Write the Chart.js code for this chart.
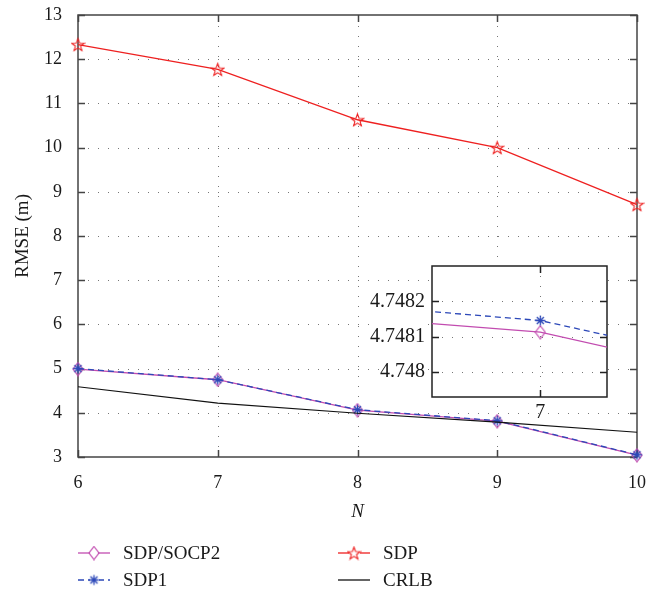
<!DOCTYPE html>
<html lang="en">
<head>
  <meta charset="UTF-8">
  <title>RMSE vs N</title>
  <script src="https://cdn.jsdelivr.net/npm/chart.js"></script>
  <style>
    body {
      margin: 0;
      background: #fff;
    }
    #wrap {
      position: relative;
      width: 648px;
      height: 590px;
      font-family: "Liberation Serif", "Times New Roman", serif;
    }
    #mainChart { position: absolute; left: 0; top: 0; }
    #insetChart { position: absolute; left: 350px; top: 256px; }
    .key {
      position: absolute;
      display: flex;
      align-items: center;
      height: 20px;
      font-size: 19px;
      color: #1a1a1a;
      white-space: nowrap;
    }
    .key canvas { margin-right: 12px; }
  </style>
</head>
<body>
  <div id="wrap">
    <canvas id="mainChart" width="648" height="590"></canvas>
    <canvas id="insetChart" width="265" height="170"></canvas>
    <div class="key" id="key0" style="left:77px; top:543px"></div>
    <div class="key" id="key1" style="left:337px; top:543px"></div>
    <div class="key" id="key2" style="left:77px; top:570px"></div>
    <div class="key" id="key3" style="left:337px; top:570px"></div>
  </div>

  <script>
    // number of anchors N
    const nValues = [6, 7, 8, 9, 10];
    const xTicks = [6, 7, 8, 9, 10];
    const yTicks = [3, 4, 5, 6, 7, 8, 9, 10, 11, 12, 13];

    // RMSE (m) per method
    const sdpSocp2 = [4.99, 4.748113, 4.06, 3.81, 3.04];
    const sdp1 = [5.00, 4.748146, 4.07, 3.82, 3.05];
    const sdp = [12.33, 11.77, 10.63, 10.00, 8.71];
    const crlb = [4.59, 4.22, 3.99, 3.79, 3.56];

    // zoomed view around N = 7
    const insetXTicks = [7];
    const insetYTicks = [4.748, 4.7481, 4.7482];

    const colors = {
      socp2: '#c24cb0',
      sdp1: '#2c48b8',
      sdp: '#ee2020',
      crlb: '#111111'
    };

    function markerCanvas(w, h, draw) {
      const c = document.createElement('canvas');
      c.width = w;
      c.height = h;
      draw(c.getContext('2d'), w, h);
      return c;
    }

    const diamond = markerCanvas(12, 15, (g, w, h) => {
      g.strokeStyle = colors.socp2;
      g.lineWidth = 1.2;
      g.beginPath();
      g.moveTo(w / 2, 1);
      g.lineTo(w - 1, h / 2);
      g.lineTo(w / 2, h - 1);
      g.lineTo(1, h / 2);
      g.closePath();
      g.stroke();
    });

    const asterisk = markerCanvas(13, 13, (g, w, h) => {
      g.strokeStyle = colors.sdp1;
      g.lineWidth = 1.3;
      g.beginPath();
      for (let k = 0; k < 4; k++) {
        const a = k * Math.PI / 4;
        g.moveTo(w / 2 - 5 * Math.cos(a), h / 2 - 5 * Math.sin(a));
        g.lineTo(w / 2 + 5 * Math.cos(a), h / 2 + 5 * Math.sin(a));
      }
      g.stroke();
    });

    const star5 = markerCanvas(15, 15, (g, w, h) => {
      g.strokeStyle = colors.sdp;
      g.lineWidth = 1.1;
      g.beginPath();
      for (let k = 0; k < 10; k++) {
        const r = k % 2 === 0 ? 6.6 : 2.7;
        const a = -Math.PI / 2 + k * Math.PI / 5;
        const px = w / 2 + r * Math.cos(a);
        const py = h / 2 + 0.7 + r * Math.sin(a);
        if (k === 0) g.moveTo(px, py); else g.lineTo(px, py);
      }
      g.closePath();
      g.stroke();
    });

    const pts = ys => nValues.map((n, i) => ({ x: n, y: ys[i] }));

    // dotted grid, box and inward tick marks
    const framePlugin = {
      id: 'frame',
      beforeDatasetsDraw(chart, args, opts) {
        const { ctx, chartArea: a, scales: { x, y } } = chart;
        ctx.save();
        if (opts.fill) {
          ctx.fillStyle = opts.fill;
          ctx.fillRect(a.left, a.top, a.width, a.height);
        }
        ctx.strokeStyle = opts.gridColor;
        ctx.lineWidth = 1;
        ctx.setLineDash(opts.dash);
        x.ticks.forEach(t => {
          const px = Math.round(x.getPixelForValue(t.value)) + 0.5;
          if (px <= a.left + 2 || px >= a.right - 2) return;
          ctx.beginPath();
          ctx.moveTo(px, a.bottom);
          ctx.lineTo(px, a.top);
          ctx.stroke();
        });
        y.ticks.forEach(t => {
          const py = Math.round(y.getPixelForValue(t.value)) + 0.5;
          if (py <= a.top + 2 || py >= a.bottom - 2) return;
          ctx.beginPath();
          ctx.moveTo(a.left, py);
          ctx.lineTo(a.right, py);
          ctx.stroke();
        });
        ctx.setLineDash([]);
        ctx.strokeStyle = opts.boxColor;
        ctx.lineWidth = opts.boxWidth;
        ctx.beginPath();
        x.ticks.forEach(t => {
          const px = Math.round(x.getPixelForValue(t.value)) + 0.5;
          ctx.moveTo(px, a.bottom);
          ctx.lineTo(px, a.bottom - opts.tickLen);
          ctx.moveTo(px, a.top);
          ctx.lineTo(px, a.top + opts.tickLen);
        });
        y.ticks.forEach(t => {
          const py = Math.round(y.getPixelForValue(t.value)) + 0.5;
          ctx.moveTo(a.left, py);
          ctx.lineTo(a.left + opts.tickLen, py);
          ctx.moveTo(a.right, py);
          ctx.lineTo(a.right - opts.tickLen, py);
        });
        ctx.stroke();
        ctx.strokeRect(a.left, a.top, a.width, a.height);
        ctx.restore();
      }
    };

    const serif = '"Liberation Serif", "Times New Roman", serif';

    function fixedTicks(values) {
      return scale => { scale.ticks = values.map(v => ({ value: v })); };
    }

    // the zoomed axes reach far past the int16 pixel clamp, so map without it
    function fixedTicksUnclamped(values) {
      return scale => {
        scale.ticks = values.map(v => ({ value: v }));
        scale.getPixelForDecimal = function (d) {
          if (this._reversePixels) d = 1 - d;
          return this._startPixel + d * this._length;
        };
      };
    }

    new Chart(document.getElementById('mainChart'), {
      type: 'line',
      data: {
        datasets: [
          { label: 'SDP1', data: pts(sdp1), borderColor: colors.sdp1, borderWidth: 1.3,
            borderDash: [6, 4], pointStyle: asterisk, pointRadius: 5, order: 1 },
          { label: 'SDP/SOCP2', data: pts(sdpSocp2), borderColor: colors.socp2, borderWidth: 1.3,
            pointStyle: diamond, pointRadius: 5, order: 2 },
          { label: 'SDP', data: pts(sdp), borderColor: colors.sdp, borderWidth: 1.3,
            pointStyle: star5, pointRadius: 5, order: 3 },
          { label: 'CRLB', data: pts(crlb), borderColor: colors.crlb, borderWidth: 1.2,
            pointRadius: 0, order: 0 }
        ]
      },
      options: {
        responsive: false,
        animation: false,
        devicePixelRatio: 1,
        events: [],
        clip: false,
        layout: { padding: { top: 15, right: 11, bottom: 0, left: 0 } },
        scales: {
          x: {
            type: 'linear',
            min: 6,
            max: 10,
            afterBuildTicks: fixedTicks(xTicks),
            afterFit: s => { s.height = 133; s.paddingLeft = 0; s.paddingRight = 0; },
            grid: { display: false, drawTicks: false },
            border: { display: false },
            ticks: { padding: 15, color: '#1a1a1a', font: { family: serif, size: 18 } },
            title: {
              display: true,
              text: 'N',
              color: '#1a1a1a',
              padding: { top: 0, bottom: 67 },
              font: { family: serif, size: 19, style: 'italic' }
            }
          },
          y: {
            min: 3,
            max: 13,
            afterBuildTicks: fixedTicks(yTicks),
            afterFit: s => { s.width = 78; s.paddingTop = 0; s.paddingBottom = 0; },
            grid: { display: false, drawTicks: false },
            border: { display: false },
            ticks: { padding: 16, color: '#1a1a1a', font: { family: serif, size: 18 } },
            title: {
              display: true,
              text: 'RMSE (m)',
              color: '#1a1a1a',
              padding: { top: 12, bottom: 0 },
              font: { family: serif, size: 19 }
            }
          }
        },
        plugins: {
          legend: { display: false },
          tooltip: { enabled: false },
          frame: { gridColor: '#777', dash: [1, 9], boxColor: '#444', boxWidth: 1.5, tickLen: 7 }
        }
      },
      plugins: [framePlugin]
    });

    new Chart(document.getElementById('insetChart'), {
      type: 'line',
      data: {
        datasets: [
          { label: 'SDP1', data: pts(sdp1), borderColor: colors.sdp1, borderWidth: 1.3,
            borderDash: [6, 4], pointStyle: asterisk, pointRadius: 5, order: 0, clip: 0 },
          { label: 'SDP/SOCP2', data: pts(sdpSocp2), borderColor: colors.socp2, borderWidth: 1.3,
            pointStyle: diamond, pointRadius: 5, order: 1, clip: 0 }
        ]
      },
      options: {
        responsive: false,
        animation: false,
        devicePixelRatio: 1,
        events: [],
        layout: { padding: { top: 10, right: 8, bottom: 0, left: 0 } },
        scales: {
          x: {
            type: 'linear',
            min: 6.9999003,
            max: 7.0000614,
            afterBuildTicks: fixedTicksUnclamped(insetXTicks),
            afterFit: s => { s.height = 29; s.paddingLeft = 0; s.paddingRight = 0; },
            grid: { display: false, drawTicks: false },
            border: { display: false },
            ticks: {
              padding: 4, color: '#1a1a1a', font: { family: serif, size: 20 },
              callback: v => String(Math.round(v))
            }
          },
          y: {
            min: 4.74793,
            max: 4.7483,
            afterBuildTicks: fixedTicksUnclamped(insetYTicks),
            afterFit: s => { s.width = 82; s.paddingTop = 0; s.paddingBottom = 0; },
            grid: { display: false, drawTicks: false },
            border: { display: false },
            ticks: {
              padding: 7, color: '#1a1a1a', font: { family: serif, size: 20 },
              showLabelBackdrop: true, backdropColor: '#fff', backdropPadding: 1,
              callback: v => String(+v.toFixed(4))
            }
          }
        },
        plugins: {
          legend: { display: false },
          tooltip: { enabled: false },
          frame: { fill: '#fff', gridColor: '#777', dash: [1, 9], boxColor: '#222', boxWidth: 1.5, tickLen: 7 }
        }
      },
      plugins: [framePlugin]
    });

    // legend entries: line sample with marker, then label
    const keys = [
      { id: 'key0', label: 'SDP/SOCP2', color: colors.socp2, dash: [], marker: diamond },
      { id: 'key1', label: 'SDP', color: colors.sdp, dash: [], marker: star5 },
      { id: 'key2', label: 'SDP1', color: colors.sdp1, dash: [6, 4], marker: asterisk },
      { id: 'key3', label: 'CRLB', color: colors.crlb, dash: [], marker: null }
    ];
    keys.forEach(k => {
      const box = document.getElementById(k.id);
      const c = document.createElement('canvas');
      c.width = 34;
      c.height = 18;
      const g = c.getContext('2d');
      g.strokeStyle = k.color;
      g.lineWidth = 1.3;
      g.setLineDash(k.dash);
      g.beginPath();
      g.moveTo(1, 9);
      g.lineTo(33, 9);
      g.stroke();
      if (k.marker) {
        g.clearRect(17 - k.marker.width / 2 + 2, 9 - 2, k.marker.width - 4, 4);
        g.drawImage(k.marker, 17 - k.marker.width / 2, 9 - k.marker.height / 2);
      }
      box.appendChild(c);
      const span = document.createElement('span');
      span.textContent = k.label;
      box.appendChild(span);
    });
  </script>
</body>
</html>
